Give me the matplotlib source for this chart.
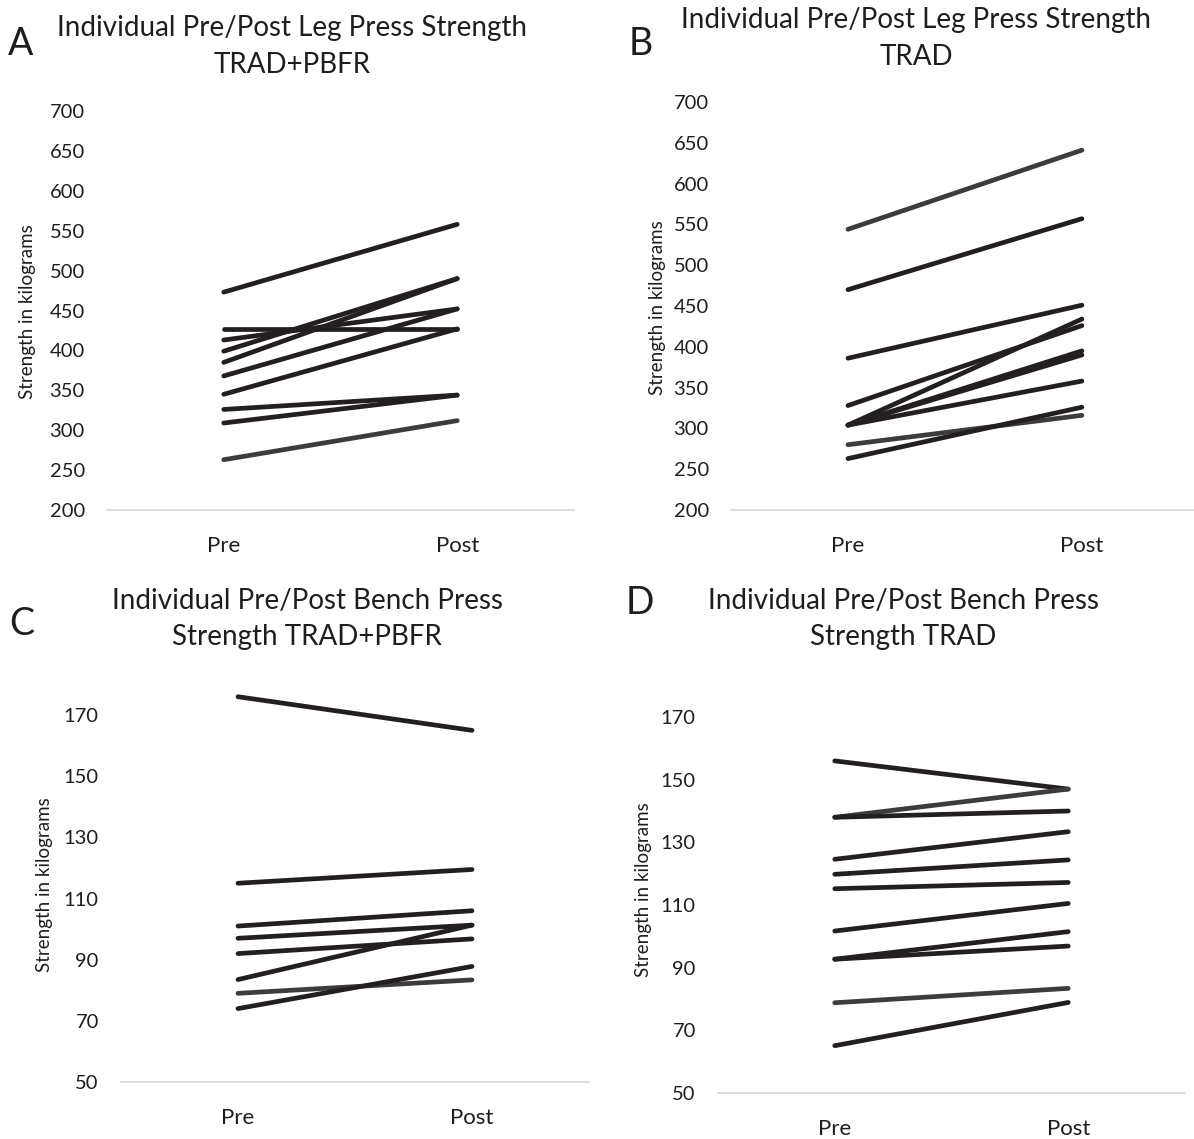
import matplotlib
matplotlib.use('Agg')
import matplotlib.pyplot as plt

plt.rcParams['font.family'] = ['Lato', 'DejaVu Sans']

categories = ['Pre', 'Post']

# A: leg press, TRAD+PBFR
leg_pbfr_pre  = [473, 427, 413, 399, 385, 368, 345, 326, 309, 263]
leg_pbfr_post = [558, 427, 452, 490, 490, 452, 427, 344, 344, 312]
leg_pbfr_gray = [False] * 9 + [True]

# B: leg press, TRAD
leg_trad_pre  = [544, 470, 386, 328, 304, 304, 304, 304, 280, 263]
leg_trad_post = [641, 557, 451, 426, 434, 395, 390, 358, 316, 326]
leg_trad_gray = [True] + [False] * 7 + [True, False]

# C: bench press, TRAD+PBFR
bench_pbfr_pre  = [176, 115, 101, 97, 92, 83.5, 79, 74]
bench_pbfr_post = [165, 119.5, 106, 101.3, 96.8, 101.3, 83.4, 87.8]
bench_pbfr_gray = [False] * 6 + [True, False]

# D: bench press, TRAD
bench_trad_pre  = [156, 138, 138, 124.6, 119.8, 115.2, 101.7, 92.7, 92.7, 78.8, 65.1]
bench_trad_post = [147, 147, 140, 133.4, 124.4, 117.2, 110.5, 101.5, 96.9, 83.4, 78.9]
bench_trad_gray = [False, True] + [False] * 7 + [True, False]

leg_ticks   = [200, 250, 300, 350, 400, 450, 500, 550, 600, 650, 700]
bench_ticks = [50, 70, 90, 110, 130, 150, 170]

W, H = 1194, 1139
BLACK = '#231f20'
GRAY  = '#3c3c3c'
TEXT  = '#1e1e1e'


def px_axes(fig, left, right, top, bottom):
    return fig.add_axes([left / W, 1 - bottom / H, (right - left) / W, (bottom - top) / H])


def draw_panel(ax, pre, post, gray, ticks, ylim, xmax):
    for p, q, g in zip(pre, post, gray):
        ax.plot([0, 1], [p, q], color=GRAY if g else BLACK, lw=3.4,
                solid_capstyle='round', zorder=3)
    ax.set_xlim(-0.5, xmax)
    ax.set_ylim(*ylim)
    ax.set_xticks([0, 1])
    ax.set_xticklabels(categories)
    ax.set_yticks(ticks)
    for s in ['top', 'right', 'left']:
        ax.spines[s].set_visible(False)
    ax.spines['bottom'].set_color('#d9d9d9')
    ax.spines['bottom'].set_linewidth(1.3)
    ax.tick_params(axis='both', length=0, colors=TEXT)
    ax.tick_params(axis='y', pad=16, labelsize=14.5)
    ax.tick_params(axis='x', pad=19, labelsize=16)
    ax.set_facecolor('none')


fig = plt.figure(figsize=(W / 100, H / 100), dpi=100)

axA = px_axes(fig, 107, 574, 111, 510)
draw_panel(axA, leg_pbfr_pre, leg_pbfr_post, leg_pbfr_gray, leg_ticks, (200, 700), 1.5)

axB = px_axes(fig, 731, 1194, 102, 510)
draw_panel(axB, leg_trad_pre, leg_trad_post, leg_trad_gray, leg_ticks, (200, 700), 1.479)

axC = px_axes(fig, 121, 589, 684.5, 1082)
draw_panel(axC, bench_pbfr_pre, bench_pbfr_post, bench_pbfr_gray, bench_ticks, (50, 180), 1.5)

axD = px_axes(fig, 718, 1185, 685.7, 1093)
draw_panel(axD, bench_trad_pre, bench_trad_post, bench_trad_gray, bench_ticks, (50, 180), 1.5)


def ftext(x, y, s, **kw):
    fig.text(x / W, 1 - y / H, s, color=TEXT, ha='center', va='center', **kw)


# panel letters
ftext(21, 44, 'A', fontsize=27)
ftext(641, 44, 'B', fontsize=27)
ftext(22, 624, 'C', fontsize=27)
ftext(640, 603, 'D', fontsize=27)

# titles
ftext(292, 28, 'Individual Pre/Post Leg Press Strength', fontsize=20)
ftext(292, 65, 'TRAD+PBFR', fontsize=20)
ftext(916, 20, 'Individual Pre/Post Leg Press Strength', fontsize=20)
ftext(916, 57, 'TRAD', fontsize=20)
ftext(307, 601, 'Individual Pre/Post Bench Press', fontsize=20)
ftext(307, 637, 'Strength TRAD+PBFR', fontsize=20)
ftext(903, 601, 'Individual Pre/Post Bench Press', fontsize=20)
ftext(903, 637, 'Strength TRAD', fontsize=20)

# y axis titles
ftext(28, 312, 'Strength in kilograms', fontsize=13.5, rotation=90)
ftext(657, 308, 'Strength in kilograms', fontsize=13.5, rotation=90)
ftext(45, 885, 'Strength in kilograms', fontsize=13.5, rotation=90)
ftext(643, 890, 'Strength in kilograms', fontsize=13.5, rotation=90)

fig.savefig('out.png', dpi=100, facecolor='white')
